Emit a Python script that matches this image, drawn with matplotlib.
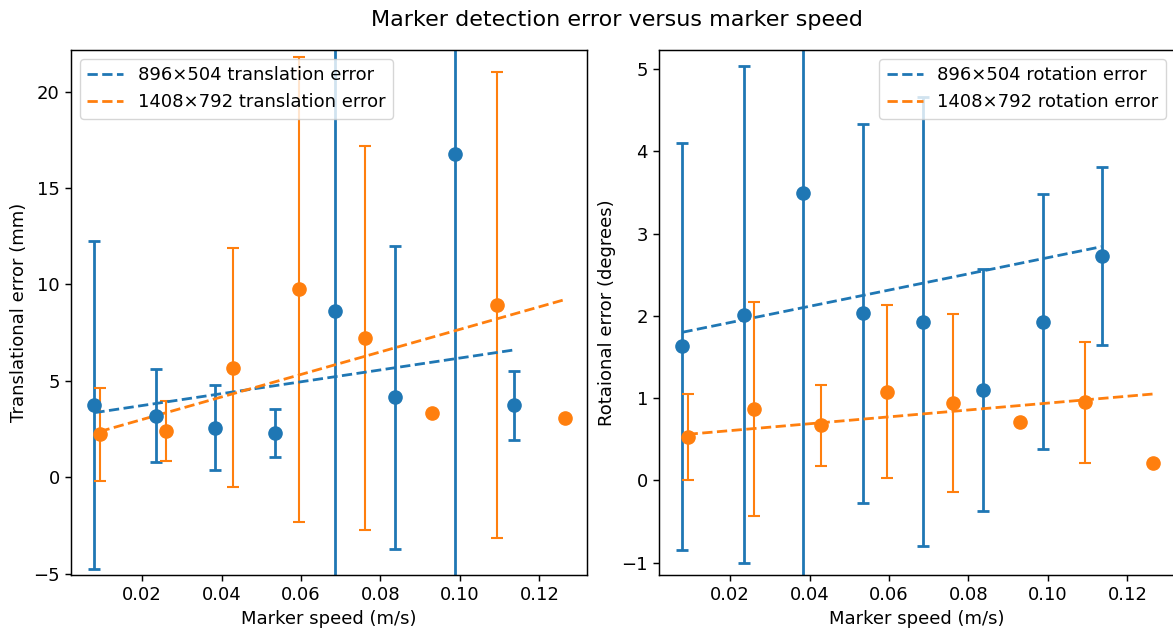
#!/usr/bin/env python3

import numpy as np
import matplotlib

matplotlib.use("Agg")
import matplotlib.pyplot as plt

# marker speeds (m/s) for each resolution
speed_896 = [0.0080, 0.0234, 0.0384, 0.0535, 0.0686, 0.0836, 0.0987, 0.1135]
speed_1408 = [0.0093, 0.0261, 0.0428, 0.0595, 0.0762, 0.0929, 0.1094, 0.1265]

# translation error (mm), mean and std
trans_896 = [3.73, 3.20, 2.57, 2.30, 8.64, 4.15, 16.77, 3.73]
trans_896_std = [8.5, 2.4, 2.2, 1.25, 16.0, 7.85, 25.0, 1.8]
trans_1408 = [2.23, 2.42, 5.67, 9.75, 7.21, 3.33, 8.94, 3.06]
trans_1408_std = [2.42, 1.56, 6.2, 12.06, 9.97, np.nan, 12.07, np.nan]

# rotation error (degrees), mean and std
rot_896 = [1.63, 2.01, 3.49, 2.03, 1.93, 1.10, 1.93, 2.73]
rot_896_std = [2.47, 3.02, 5.0, 2.30, 2.73, 1.47, 1.55, 1.08]
rot_1408 = [0.53, 0.87, 0.67, 1.08, 0.94, 0.71, 0.95, 0.21]
rot_1408_std = [0.52, 1.30, 0.49, 1.05, 1.08, np.nan, 0.735, np.nan]

# trend line end points (first/last speed)
trans_trend_896 = [3.35, 6.60]
trans_trend_1408 = [2.37, 9.22]
rot_trend_896 = [1.80, 2.84]
rot_trend_1408 = [0.56, 1.05]

BLUE = "#1f77b4"
ORANGE = "#ff7f0e"

plt.rcParams["font.size"] = 13
plt.rcParams["axes.linewidth"] = 1.05
plt.rcParams["xtick.major.size"] = 4.5
plt.rcParams["ytick.major.size"] = 4.5
plt.rcParams["xtick.major.width"] = 1.05
plt.rcParams["ytick.major.width"] = 1.05


def draw_panel(ax, y_896, err_896, y_1408, err_1408, trend_896, trend_1408, kind):
    ax.errorbar(speed_896, y_896, yerr=err_896, fmt="o", color=BLUE,
                markersize=9.5, elinewidth=2, capsize=4, capthick=2)
    ax.errorbar(speed_1408, y_1408, yerr=err_1408, fmt="o", color=ORANGE,
                markersize=9.5, elinewidth=1.5, capsize=4, capthick=1.5)
    ax.plot([speed_896[0], speed_896[-1]], trend_896, "--", color=BLUE,
            linewidth=2, label="896×504 %s error" % kind)
    ax.plot([speed_1408[0], speed_1408[-1]], trend_1408, "--", color=ORANGE,
            linewidth=2, label="1408×792 %s error" % kind)
    ax.set_xlabel("Marker speed (m/s)")
    ax.set_xticks([0.02, 0.04, 0.06, 0.08, 0.10, 0.12])
    ax.set_xlim(0.0021, 0.1319)


fig = plt.figure(figsize=(11.73, 6.37), dpi=100)
ax1 = fig.add_axes([0.0605, 0.0973, 0.4396, 0.8242])
ax2 = fig.add_axes([0.5618, 0.0973, 0.4396, 0.8242])

draw_panel(ax1, trans_896, trans_896_std, trans_1408, trans_1408_std,
           trans_trend_896, trans_trend_1408, "translation")
ax1.set_ylim(-5.07, 22.16)
ax1.set_ylabel("Translational error (mm)")
ax1.legend(loc="upper left")

draw_panel(ax2, rot_896, rot_896_std, rot_1408, rot_1408_std,
           rot_trend_896, rot_trend_1408, "rotation")
ax2.set_ylim(-1.15, 5.23)
ax2.set_ylabel("Rotaional error (degrees)")
ax2.legend(loc="upper right")

fig.suptitle("Marker detection error versus marker speed", x=0.526, y=0.985,
             fontsize=16)

fig.savefig("out.png", dpi=100)
